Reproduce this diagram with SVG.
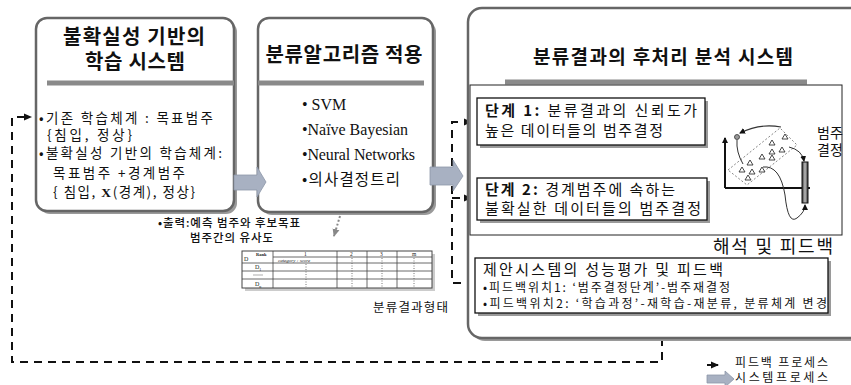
<svg xmlns="http://www.w3.org/2000/svg" width="851" height="385" viewBox="0 0 851 385">
<defs>
<style>
.kr{font-family:"Noto Sans CJK KR","Noto Sans",sans-serif;fill:#111}
.b{font-weight:bold}
.se{font-family:"Liberation Serif","Times New Roman",serif;fill:#111}
.box{fill:#fff;stroke:#666;stroke-width:2.5}
.shadow{fill:#9a9a9a}
.sep{stroke:#8a8a8a;stroke-width:5}
.step{fill:#fff;stroke:#111;stroke-width:1.3}
.dash{fill:none;stroke:#111;stroke-width:2;stroke-dasharray:8 6}
.barrow{fill:#a8b1c2;stroke:#8d97a8;stroke-width:0.8}
.tb{stroke:#444;stroke-width:0.8;fill:none}
.tt{font-family:"Liberation Serif",serif;fill:#222}
</style>
<marker id="ah" markerWidth="8" markerHeight="8" refX="7" refY="4" orient="auto" markerUnits="userSpaceOnUse">
<path d="M0,0.5 L8,4 L0,7.5 Z" fill="#111"/>
</marker>
<marker id="ahg" markerWidth="8" markerHeight="8" refX="7" refY="4" orient="auto" markerUnits="userSpaceOnUse">
<path d="M0,0.5 L8,4 L0,7.5 Z" fill="#888"/>
</marker>
<marker id="ahs" markerWidth="6" markerHeight="6" refX="5" refY="3" orient="auto" markerUnits="userSpaceOnUse">
<path d="M0,0 L6,3 L0,6 Z" fill="#111"/>
</marker>
<linearGradient id="bar" x1="0" x2="1" y1="0" y2="0">
<stop offset="0" stop-color="#333"/>
<stop offset="0.5" stop-color="#bbb"/>
<stop offset="1" stop-color="#333"/>
</linearGradient>
</defs>
<rect width="851" height="385" fill="#fff"/>

<g id="connectors">
<path class="dash" d="M662,338 V362 H12 V117 H31" marker-end="url(#ah)"/>
<path class="dash" d="M475,283 H452 V122 H471" marker-end="url(#ah)"/>
<path class="dash" d="M452,198 H471" marker-end="url(#ah)"/>
<path d="M340,216 L334,236" stroke="#888" stroke-width="2" stroke-dasharray="2 2" fill="none" marker-end="url(#ahg)"/>
</g>

<g id="learning">
<rect class="shadow" x="39" y="21" width="198" height="193" rx="11"/>
<rect class="box" x="36" y="18" width="198" height="193" rx="11"/>
<line class="sep" x1="47" y1="83" x2="234" y2="83"/>
<text class="kr b" x="134" y="44" font-size="20" text-anchor="middle" textLength="142">불확실성 기반의</text>
<text class="kr b" x="135" y="69" font-size="20" text-anchor="middle" textLength="100">학습 시스템</text>
<text class="kr" x="39" y="123" font-size="13.5" textLength="174">•기존 학습체계 : 목표범주</text>
<text class="kr" x="47" y="140" font-size="13.5" textLength="85">{침입, 정상}</text>
<text class="kr" x="39" y="158" font-size="13.5" textLength="183">•불확실성 기반의 학습체계:</text>
<text class="kr" x="53" y="178" font-size="13.5" textLength="132">목표범주 +경계범주</text>
<text class="kr" x="53" y="197" font-size="13.5" textLength="142">{ 침입, <tspan class="se b">X</tspan>(경계), 정상}</text>
</g>

<g id="algorithm">
<rect class="shadow" x="261" y="21" width="175" height="194" rx="11"/>
<rect class="box" x="258" y="18" width="175" height="194" rx="11"/>
<line class="sep" x1="258" y1="83" x2="424" y2="83"/>
<text class="kr b" x="344" y="62" font-size="20" text-anchor="middle" textLength="157">분류알고리즘 적용</text>
<text class="se" x="302" y="110" font-size="16">• SVM</text>
<text class="se" x="302" y="135" font-size="16" textLength="106">•Naïve Bayesian</text>
<text class="se" x="302" y="160" font-size="16" textLength="113">•Neural Networks</text>
<text class="kr" x="302" y="185" font-size="15.5" textLength="98">•의사결정트리</text>
</g>

<g id="arrow1">
<polygon class="barrow" points="234,175 257,175 257,167 266,182 257,197 257,190 234,190"/>
</g>
<g id="arrow2">
<polygon class="barrow" points="430,167 453,167 453,160 463,176 453,191 453,185 430,185"/>
</g>

<g id="output">
<text class="kr" x="158" y="227" font-size="11.5" font-weight="500" textLength="142">•출력:예측 범주와 후보목표</text>
<text class="kr" x="190" y="242" font-size="11.5" font-weight="500" textLength="83">범주간의 유사도</text>
</g>

<g id="table">
<rect x="245" y="254" width="190" height="37" fill="#ccc"/>
<rect x="242" y="251" width="190" height="37" fill="#fff" stroke="#444" stroke-width="1"/>
<line class="tb" x1="273" y1="251" x2="273" y2="288"/>
<line class="tb" x1="337" y1="251" x2="337" y2="288"/>
<line class="tb" x1="367" y1="251" x2="367" y2="288"/>
<line class="tb" x1="397" y1="251" x2="397" y2="288"/>
<line class="tb" x1="273" y1="257" x2="432" y2="257"/>
<line class="tb" x1="242" y1="263" x2="432" y2="263"/>
<line class="tb" x1="242" y1="271" x2="432" y2="271"/>
<line class="tb" x1="242" y1="279" x2="432" y2="279"/>
<text class="tt" x="244" y="261" font-size="6">D</text>
<text class="tt" x="256" y="256" font-size="4.5" font-weight="bold">Rank</text>
<text class="tt" x="304" y="256" font-size="5.5">1</text>
<text class="tt" x="350" y="256" font-size="5.5">2</text>
<text class="tt" x="380" y="256" font-size="5.5">3</text>
<text class="tt" x="412" y="256" font-size="5.5">m</text>
<text class="tt" x="278" y="262" font-size="5" font-style="italic">category   :   score</text>
<text class="tt" x="255" y="269" font-size="6">D<tspan font-size="4" dy="1.5">1</tspan></text>
<line x1="253" y1="275" x2="263" y2="275" stroke="#777" stroke-width="0.6"/>
<text class="tt" x="255" y="286" font-size="6">D<tspan font-size="4" dy="1.5">n</tspan></text>
<g stroke="#555" stroke-width="0.8" stroke-dasharray="1 1.5">
<line x1="306" y1="264" x2="306" y2="287"/>
<line x1="352" y1="258" x2="352" y2="287"/>
<line x1="382" y1="258" x2="382" y2="287"/>
<line x1="414" y1="258" x2="414" y2="287"/>
</g>
<text class="kr" x="373" y="312" font-size="12.5" textLength="75">분류결과형태</text>
</g>

<g id="postprocess">
<rect class="shadow" x="471" y="11" width="400" height="330" rx="14"/>
<rect class="box" x="468" y="8" width="400" height="330" rx="14"/>
<line class="sep" x1="505" y1="82" x2="807" y2="82"/>
<text class="kr b" x="663" y="64" font-size="19" text-anchor="middle" textLength="260">분류결과의 후처리 분석 시스템</text>
<rect x="470" y="85" width="372" height="150" fill="#fff" stroke="#222" stroke-width="1"/>
<text class="kr" x="713" y="253" font-size="18" textLength="120">해석 및 피드백</text>
</g>

<g id="step1">
<rect class="shadow" x="480" y="101" width="228" height="47"/>
<rect class="step" x="477" y="98" width="228" height="47"/>
<text class="kr" x="485" y="116" font-size="15" textLength="212"><tspan class="b">단계 1:</tspan> 분류결과의 신뢰도가</text>
<text class="kr" x="485" y="136" font-size="15" textLength="178">높은 데이터들의 범주결정</text>
</g>

<g id="step2">
<rect class="shadow" x="480" y="181" width="230" height="42"/>
<rect class="step" x="477" y="178" width="230" height="42"/>
<text class="kr" x="485" y="195" font-size="15" textLength="190"><tspan class="b">단계 2:</tspan> 경계범주에 속하는</text>
<text class="kr" x="485" y="214" font-size="15" textLength="216">불확실한 데이터들의 범주결정</text>
</g>

<g id="scatter">
<line x1="725" y1="188" x2="725" y2="138" stroke="#111" stroke-width="2" marker-end="url(#ahs)"/>
<line x1="725" y1="188" x2="810" y2="188" stroke="#111" stroke-width="2"/>
<polygon points="728,170 780,128 797,145 747,185" fill="none" stroke="#888" stroke-width="1" stroke-dasharray="2 2"/>
<g fill="#fff" stroke="#333" stroke-width="0.9">
<path d="M785,134 l3,5 h-6 z"/>
<path d="M772,140 l3,5 h-6 z"/>
<path d="M782,147 l3,5 h-6 z"/>
<path d="M772,149 l3,5 h-6 z"/>
<path d="M762,154 l3,5 h-6 z"/>
<path d="M772,155 l3,5 h-6 z"/>
<path d="M750,160 l3,5 h-6 z"/>
<path d="M742,167 l3,5 h-6 z"/>
<path d="M752,169 l3,5 h-6 z"/>
<path d="M762,167 l3,5 h-6 z"/>
<path d="M748,175 l3,5 h-6 z"/>
</g>
<rect x="802" y="162" width="6" height="41" fill="url(#bar)" stroke="#111" stroke-width="1"/>
<path d="M781,127 Q760,123 740,133" fill="none" stroke="#333" stroke-width="1.2" marker-end="url(#ahs)"/>
<circle cx="737" cy="137" r="2.5" fill="#999" stroke="#333" stroke-width="0.8"/>
<path d="M737,140 Q736,152 743,164" fill="none" stroke="#333" stroke-width="1"/>
<path d="M789,147 Q802,150 804,161" fill="none" stroke="#333" stroke-width="1" marker-end="url(#ahs)"/>
<path d="M763,167 Q780,165 785,195 Q788,225 797,218 Q805,212 805,205" fill="none" stroke="#333" stroke-width="1" marker-end="url(#ahs)"/>
<text class="kr" x="817" y="138" font-size="14">범주</text>
<text class="kr" x="817" y="155" font-size="14">결정</text>
</g>

<g id="feedback">
<rect class="shadow" x="478" y="261" width="353" height="55"/>
<rect class="step" x="475" y="258" width="353" height="55"/>
<text class="kr" x="483" y="275" font-size="15" textLength="240">제안시스템의 성능평가 및 피드백</text>
<text class="kr" x="483" y="292" font-size="12" textLength="247">•피드백위치1: ‘범주결정단계’-범주재결정</text>
<text class="kr" x="483" y="308" font-size="12" textLength="344">•피드백위치2: ‘학습과정’-재학습-재분류, 분류체계 변경</text>
</g>

<g id="legend">
<path class="dash" d="M707,365 H713"/>
<path d="M716,365 H718" stroke="#111" stroke-width="2" marker-end="url(#ah)"/>
<text class="kr" x="735" y="367" font-size="12" textLength="93">피드백 프로세스</text>
<polygon class="barrow" points="707,375 725,375 725,371 734,379 725,387 725,383 707,383"/>
<text class="kr" x="735" y="382" font-size="12" textLength="93">시스템프로세스</text>
</g>
</svg>
